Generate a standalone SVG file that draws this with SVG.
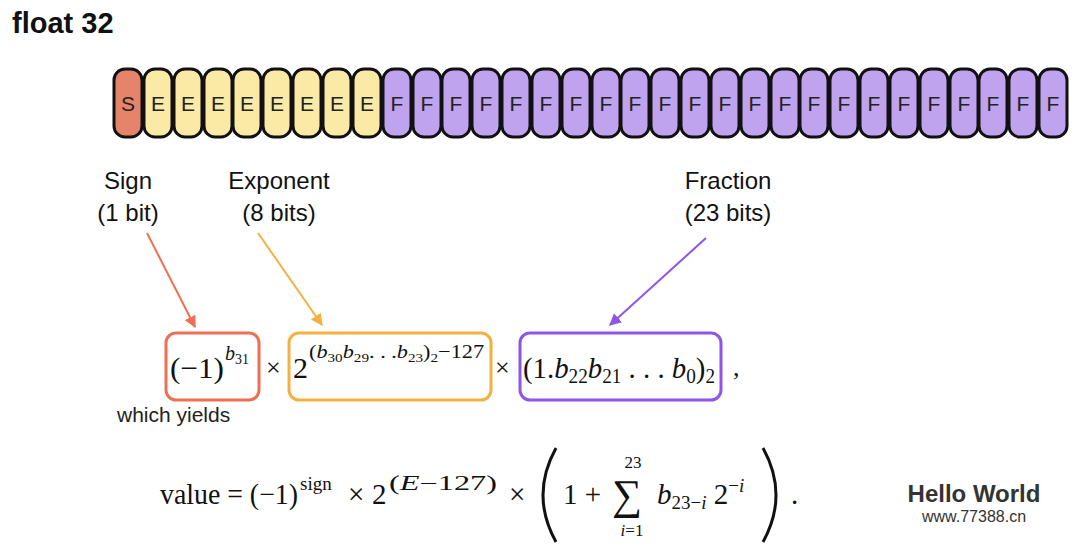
<svg xmlns="http://www.w3.org/2000/svg" width="1080" height="546" viewBox="0 0 1080 546">
<style>
.c{stroke:#111;stroke-width:3}
.s{fill:#e5846a}.e{fill:#fbe9a6}.f{fill:#bfa3ee}
.bt{font-family:"Liberation Sans",Arial,sans-serif;font-size:21px;fill:#222;text-anchor:middle}
.lb{font-family:"Liberation Sans",Arial,sans-serif;font-size:24px;fill:#111;text-anchor:middle}
.m{font-family:"Liberation Serif","Times New Roman",serif;fill:#111}
.i{font-style:italic}
</style>
<defs>
<marker id="ar" viewBox="0 0 10 10" refX="9" refY="5" markerWidth="6" markerHeight="6" orient="auto"><path d="M0,0L10,5L0,10z" fill="#ef6f55"/></marker>
<marker id="ao" viewBox="0 0 10 10" refX="9" refY="5" markerWidth="6" markerHeight="6" orient="auto"><path d="M0,0L10,5L0,10z" fill="#f5b041"/></marker>
<marker id="ap" viewBox="0 0 10 10" refX="9" refY="5" markerWidth="6" markerHeight="6" orient="auto"><path d="M0,0L10,5L0,10z" fill="#8e55e8"/></marker>
</defs>
<rect width="1080" height="546" fill="#fff"/>
<text x="12" y="33" font-family="Liberation Sans,Arial,sans-serif" font-size="29" font-weight="bold" fill="#111">float 32</text>
<g id="bits">
<rect class="c s" x="114" y="69" width="28" height="68" rx="11"/><text class="bt" x="128" y="111">S</text>
<g id="exp">
<rect class="c e" x="144" y="69" width="28" height="68" rx="11"/><text class="bt" x="158" y="111">E</text>
<rect class="c e" x="174" y="69" width="28" height="68" rx="11"/><text class="bt" x="188" y="111">E</text>
<rect class="c e" x="204" y="69" width="28" height="68" rx="11"/><text class="bt" x="218" y="111">E</text>
<rect class="c e" x="233" y="69" width="28" height="68" rx="11"/><text class="bt" x="247" y="111">E</text>
<rect class="c e" x="263" y="69" width="28" height="68" rx="11"/><text class="bt" x="277" y="111">E</text>
<rect class="c e" x="293" y="69" width="28" height="68" rx="11"/><text class="bt" x="307" y="111">E</text>
<rect class="c e" x="323" y="69" width="28" height="68" rx="11"/><text class="bt" x="337" y="111">E</text>
<rect class="c e" x="353" y="69" width="28" height="68" rx="11"/><text class="bt" x="367" y="111">E</text>
</g>
<g id="frac">
<rect class="c f" x="383" y="69" width="28" height="68" rx="11"/><text class="bt" x="397" y="111">F</text>
<rect class="c f" x="413" y="69" width="28" height="68" rx="11"/><text class="bt" x="427" y="111">F</text>
<rect class="c f" x="442" y="69" width="28" height="68" rx="11"/><text class="bt" x="456" y="111">F</text>
<rect class="c f" x="472" y="69" width="28" height="68" rx="11"/><text class="bt" x="486" y="111">F</text>
<rect class="c f" x="502" y="69" width="28" height="68" rx="11"/><text class="bt" x="516" y="111">F</text>
<rect class="c f" x="532" y="69" width="28" height="68" rx="11"/><text class="bt" x="546" y="111">F</text>
<rect class="c f" x="562" y="69" width="28" height="68" rx="11"/><text class="bt" x="576" y="111">F</text>
<rect class="c f" x="592" y="69" width="28" height="68" rx="11"/><text class="bt" x="606" y="111">F</text>
<rect class="c f" x="621" y="69" width="28" height="68" rx="11"/><text class="bt" x="635" y="111">F</text>
<rect class="c f" x="651" y="69" width="28" height="68" rx="11"/><text class="bt" x="665" y="111">F</text>
<rect class="c f" x="681" y="69" width="28" height="68" rx="11"/><text class="bt" x="695" y="111">F</text>
<rect class="c f" x="711" y="69" width="28" height="68" rx="11"/><text class="bt" x="725" y="111">F</text>
<rect class="c f" x="741" y="69" width="28" height="68" rx="11"/><text class="bt" x="755" y="111">F</text>
<rect class="c f" x="771" y="69" width="28" height="68" rx="11"/><text class="bt" x="785" y="111">F</text>
<rect class="c f" x="800" y="69" width="28" height="68" rx="11"/><text class="bt" x="814" y="111">F</text>
<rect class="c f" x="830" y="69" width="28" height="68" rx="11"/><text class="bt" x="844" y="111">F</text>
<rect class="c f" x="860" y="69" width="28" height="68" rx="11"/><text class="bt" x="874" y="111">F</text>
<rect class="c f" x="890" y="69" width="28" height="68" rx="11"/><text class="bt" x="904" y="111">F</text>
<rect class="c f" x="920" y="69" width="28" height="68" rx="11"/><text class="bt" x="934" y="111">F</text>
<rect class="c f" x="950" y="69" width="28" height="68" rx="11"/><text class="bt" x="964" y="111">F</text>
<rect class="c f" x="979" y="69" width="28" height="68" rx="11"/><text class="bt" x="993" y="111">F</text>
<rect class="c f" x="1009" y="69" width="28" height="68" rx="11"/><text class="bt" x="1023" y="111">F</text>
<rect class="c f" x="1039" y="69" width="28" height="68" rx="11"/><text class="bt" x="1053" y="111">F</text>
</g>
</g>
<g id="labels">
<text class="lb" x="128" y="189">Sign</text><text class="lb" x="128" y="221">(1 bit)</text>
<text class="lb" x="279" y="189">Exponent</text><text class="lb" x="279" y="221">(8 bits)</text>
<text class="lb" x="728" y="189">Fraction</text><text class="lb" x="728" y="221">(23 bits)</text>
</g>
<g id="connectors" stroke-width="2" fill="none">
<line x1="147" y1="233" x2="195" y2="327" stroke="#ef6f55" marker-end="url(#ar)"/>
<line x1="258" y1="233" x2="322" y2="325" stroke="#f5b041" marker-end="url(#ao)"/>
<line x1="706" y1="238" x2="610" y2="325" stroke="#8e55e8" marker-end="url(#ap)"/>
</g>
<g id="boxes" fill="none" stroke-width="3">
<rect x="166" y="333" width="93" height="67" rx="10" stroke="#ef6f55"/>
<rect x="289" y="333" width="202" height="67" rx="10" stroke="#f5b041"/>
<rect x="520" y="333" width="201" height="67" rx="10" stroke="#8e55e8"/>
</g>
<g id="formula1" class="m">
<text x="170" y="378" font-size="30" textLength="54" lengthAdjust="spacingAndGlyphs">(−1)</text>
<text x="225" y="360" font-size="20" class="i">b<tspan font-size="14" font-style="normal" dy="4">31</tspan></text>
<text x="266" y="376" font-size="26">×</text>
<text x="293" y="378" font-size="30">2</text>
<text x="309" y="358" font-size="19" textLength="175" lengthAdjust="spacingAndGlyphs">(<tspan class="i">b</tspan><tspan font-size="13" dy="4">30</tspan><tspan class="i" dy="-4">b</tspan><tspan font-size="13" dy="4">29</tspan><tspan dy="-4">. . .</tspan><tspan class="i">b</tspan><tspan font-size="13" dy="4">23</tspan><tspan dy="-4">)</tspan><tspan font-size="13" dy="4">2</tspan><tspan dy="-4">−127</tspan></text>
<text x="495" y="376" font-size="26">×</text>
<text x="523" y="378" font-size="30" textLength="192" lengthAdjust="spacingAndGlyphs">(1.<tspan class="i">b</tspan><tspan font-size="20" dy="5">22</tspan><tspan class="i" dy="-5">b</tspan><tspan font-size="20" dy="5">21</tspan><tspan dy="-5"> . . . </tspan><tspan class="i">b</tspan><tspan font-size="20" dy="5">0</tspan><tspan dy="-5">)</tspan><tspan font-size="20" dy="5">2</tspan></text>
<text x="733" y="376" font-size="26">,</text>
</g>
<text x="117" y="422" font-family="Liberation Sans,Arial,sans-serif" font-size="21" fill="#222">which yields</text>
<g id="formula2" class="m">
<text x="160" y="504" font-size="29" textLength="138" lengthAdjust="spacingAndGlyphs">value = (−1)</text>
<text x="300" y="490" font-size="19">sign</text>
<text x="348" y="504" font-size="29">×</text>
<text x="372" y="504" font-size="29">2</text>
<text x="389" y="490" font-size="20" textLength="108" lengthAdjust="spacingAndGlyphs">(<tspan class="i">E</tspan>−127)</text>
<text x="509" y="504" font-size="29">×</text>
<path d="M556,448 Q530,495 556,542" fill="none" stroke="#111" stroke-width="3"/>
<text x="563" y="504" font-size="29">1 +</text>
<text x="612" y="509" font-size="42">∑</text>
<text x="633" y="468" font-size="17" text-anchor="middle">23</text>
<text x="632" y="536" font-size="17" text-anchor="middle"><tspan class="i">i</tspan>=1</text>
<text x="657" y="504" font-size="29"><tspan class="i">b</tspan><tspan font-size="19" dy="5">23−<tspan class="i">i</tspan></tspan><tspan dy="-5"> 2</tspan><tspan font-size="19" dy="-12">−<tspan class="i">i</tspan></tspan></text>
<path d="M763,448 Q789,495 763,542" fill="none" stroke="#111" stroke-width="3"/>
<text x="791" y="504" font-size="29">.</text>
</g>
<g id="watermark" font-family="Liberation Sans,Arial,sans-serif">
<text x="974" y="502" font-size="24" font-weight="bold" fill="#333" text-anchor="middle">Hello World</text>
<text x="974" y="522" font-size="16" fill="#333" text-anchor="middle">www.77388.cn</text>
</g>
</svg>
